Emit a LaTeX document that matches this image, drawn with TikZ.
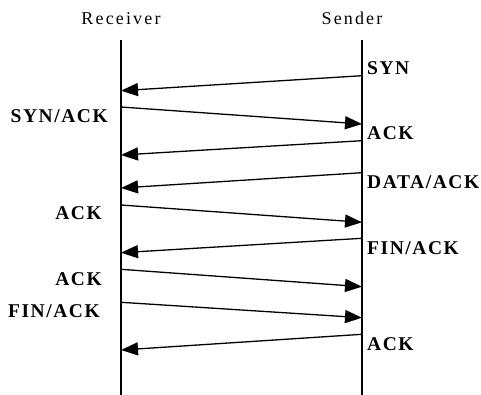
\documentclass[tikz,border=0pt]{standalone}
\usepackage{fontspec}
\setmainfont{Liberation Serif}
\usetikzlibrary{arrows.meta}
\newfontfamily\headfont[LetterSpace=12]{Liberation Serif}
\newfontfamily\msgfont[LetterSpace=8]{Liberation Serif}
\tikzset{
  lifeline/.style={line width=1.5pt},
  msg/.style={line width=1.3pt, -{Triangle[length=17pt,width=13pt]}},
  head/.style={inner sep=0pt, anchor=base, font=\headfont\fontsize{18}{20}\selectfont},
  rlabel/.style={inner sep=0pt, anchor=base west, font=\msgfont\bfseries\fontsize{19.5}{22}\selectfont},
  llabel/.style={inner sep=0pt, anchor=base east, font=\msgfont\bfseries\fontsize{19.5}{22}\selectfont}
}
\begin{document}
\begin{tikzpicture}[x=1pt,y=-1pt]
  \useasboundingbox (0,0) rectangle (481,395);
  % headers
  \node[head] (recv) at (121,25) {Receiver};
  \node[head] (send) at (352,25) {Sender};
  % lifelines
  \coordinate (rtop) at (121,40);
  \coordinate (rbot) at (121,395);
  \coordinate (stop) at (362,40);
  \coordinate (sbot) at (362,395);
  \draw[lifeline] (rtop) -- (rbot);
  \draw[lifeline] (stop) -- (sbot);
  % message end points on the lifelines
  \coordinate (s1) at (362,75.7);  \coordinate (r1) at (121,90.7);
  \coordinate (r2) at (121,107);   \coordinate (s2) at (362,124);
  \coordinate (s3) at (362,140.7); \coordinate (r3) at (121,155);
  \coordinate (s4) at (362,172.7); \coordinate (r4) at (121,188);
  \coordinate (r5) at (121,205);   \coordinate (s5) at (362,222.3);
  \coordinate (s6) at (362,238.3); \coordinate (r6) at (121,252.7);
  \coordinate (r7) at (121,269.3); \coordinate (s7) at (362,286.7);
  \coordinate (r8) at (121,302.3); \coordinate (s8) at (362,317.7);
  \coordinate (s9) at (362,334.3); \coordinate (r9) at (121,350);
  % messages
  \draw[msg] (s1) -- (r1);
  \draw[msg] (r2) -- (s2);
  \draw[msg] (s3) -- (r3);
  \draw[msg] (s4) -- (r4);
  \draw[msg] (r5) -- (s5);
  \draw[msg] (s6) -- (r6);
  \draw[msg] (r7) -- (s7);
  \draw[msg] (r8) -- (s8);
  \draw[msg] (s9) -- (r9);
  % labels
  \node[rlabel] (l1) at (367,75) {SYN};
  \node[llabel] (l2) at (108,122.3) {SYN/ACK};
  \node[rlabel] (l3) at (367,139.3) {ACK};
  \node[rlabel] (l4) at (367,189) {DATA/ACK};
  \node[llabel] (l5) at (102,219.3) {ACK};
  \node[rlabel] (l6) at (367,254) {FIN/ACK};
  \node[llabel] (l7) at (102,285) {ACK};
  \node[llabel] (l8) at (100,317.7) {FIN/ACK};
  \node[rlabel] (l9) at (367,350.7) {ACK};
\end{tikzpicture}
\end{document}
